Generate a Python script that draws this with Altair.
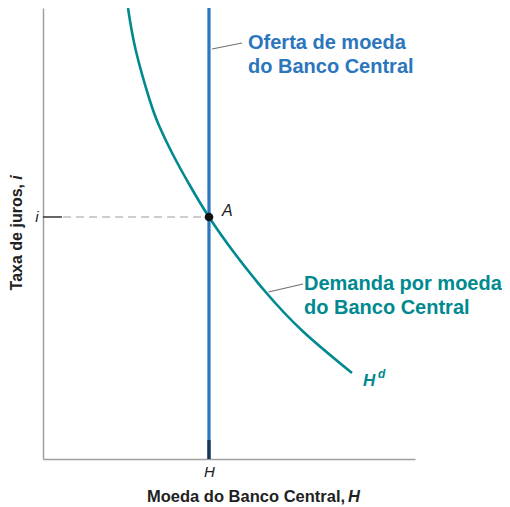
import altair as alt
import pandas as pd

# ---- data (abstract units, 0-100 on both axes) ----
H_VALUE = 44.62          # money supply position
I_VALUE = 53.66          # equilibrium interest rate

demand_x = [22.85, 24.92, 28.68, 31.24, 34.70, 39.49, 44.62, 51.24, 59.84, 70.05, 83.06]
demand_y = [100.0, 90.69, 79.60, 73.84, 67.85, 60.64, 53.66, 45.90, 37.03, 28.16, 19.07]

supply_x = [H_VALUE, H_VALUE]
supply_y = [0, 100]

# annotation anchors
label_text = ["Oferta de moeda", "do Banco Central", "Demanda por moeda", "do Banco Central"]
label_x = [55.11, 55.11, 70.16, 70.16]
label_y = [92.24, 86.92, 38.80, 33.48]
label_group = ["s", "s", "d", "d"]

leader_x = [45.43, 60.6]
leader_x2 = [53.49, 69.89]
leader_y = [90.91, 37.03]
leader_y2 = [92.24, 38.80]

BLUE = "#2b76bc"
TEAL = "#008a90"
FONT = "Liberation Sans"

xs = alt.Scale(domain=[0, 100], nice=False, zero=False)
ys = alt.Scale(domain=[0, 100], nice=False, zero=False)

demand_df = pd.DataFrame({"x": demand_x, "y": demand_y, "o": list(range(len(demand_x)))})
supply_df = pd.DataFrame({"x": supply_x, "y": supply_y})

base_axes = alt.Chart(pd.DataFrame({"x": [H_VALUE], "y": [I_VALUE]})).mark_point(opacity=0).encode(
    x=alt.X("x:Q", scale=xs, axis=alt.Axis(
        values=[H_VALUE], labelExpr="'H'", title=None, ticks=False, grid=False,
        labelFontStyle="italic", labelFontSize=15, labelColor="#222", labelFont=FONT,
        labelPadding=5, domainColor="#a0a0a0", domainWidth=1.5)),
    y=alt.Y("y:Q", scale=ys, axis=alt.Axis(
        values=[I_VALUE], labelExpr="'i'", title=None, ticks=False, grid=False,
        labelFontStyle="italic", labelFontSize=15, labelColor="#222", labelFont=FONT,
        labelPadding=5, domainColor="#a0a0a0", domainWidth=1.5)),
)

dashed = alt.Chart(pd.DataFrame({"x": [5.4], "x2": [H_VALUE], "y": [I_VALUE]})).mark_rule(
    color="#bdbdbd", strokeDash=[8, 5], strokeWidth=1.5).encode(
    x=alt.X("x:Q", scale=xs), x2="x2:Q", y=alt.Y("y:Q", scale=ys))

itick = alt.Chart(pd.DataFrame({"x": [0], "x2": [5.1], "y": [I_VALUE]})).mark_rule(
    color="#333", strokeWidth=1.5).encode(
    x=alt.X("x:Q", scale=xs), x2="x2:Q", y=alt.Y("y:Q", scale=ys))

supply = alt.Chart(supply_df).mark_line(color=BLUE, strokeWidth=3.2).encode(
    x=alt.X("x:Q", scale=xs), y=alt.Y("y:Q", scale=ys))

htick = alt.Chart(pd.DataFrame({"x": [H_VALUE], "y": [0], "y2": [4.2]})).mark_rule(
    color="#1d3554", strokeWidth=3.2).encode(
    x=alt.X("x:Q", scale=xs), y=alt.Y("y:Q", scale=ys), y2="y2:Q")

demand = alt.Chart(demand_df).mark_line(color=TEAL, strokeWidth=2.6, interpolate="natural").encode(
    x=alt.X("x:Q", scale=xs), y=alt.Y("y:Q", scale=ys), order="o:Q")

point_a = alt.Chart(pd.DataFrame({"x": [H_VALUE], "y": [I_VALUE]})).mark_circle(
    color="#111", size=75, opacity=1).encode(
    x=alt.X("x:Q", scale=xs), y=alt.Y("y:Q", scale=ys))

leaders = alt.Chart(pd.DataFrame({"x": leader_x, "x2": leader_x2, "y": leader_y, "y2": leader_y2})).mark_rule(
    color="#707070", strokeWidth=1.2).encode(
    x=alt.X("x:Q", scale=xs), x2="x2:Q", y=alt.Y("y:Q", scale=ys), y2="y2:Q")

labels = alt.Chart(pd.DataFrame({"t": label_text, "x": label_x, "y": label_y, "g": label_group})).mark_text(
    align="left", baseline="middle", font=FONT, fontSize=20, fontWeight="bold").encode(
    x=alt.X("x:Q", scale=xs), y=alt.Y("y:Q", scale=ys), text="t:N",
    color=alt.Color("g:N", scale=alt.Scale(domain=["s", "d"], range=[BLUE, TEAL]), legend=None))

def txt(t, x, y, **kw):
    return alt.Chart(pd.DataFrame({"t": [t], "x": [x], "y": [y]})).mark_text(font=FONT, **kw).encode(
        x=alt.X("x:Q", scale=xs), y=alt.Y("y:Q", scale=ys), text="t:N")

a_lbl = txt("A", 48.12, 54.99, align="left", baseline="middle", fontSize=16, fontStyle="italic", color="#222")
hd_H = txt("H", 86.02, 17.29, align="left", baseline="middle", fontSize=17, fontStyle="italic",
           fontWeight="bold", color=TEAL)
hd_d = txt("d", 90.05, 18.9, align="left", baseline="middle", fontSize=12, fontStyle="italic",
           fontWeight="bold", color=TEAL)

xt1 = txt("Moeda do Banco Central,", 81.2, -8.43, align="right", baseline="middle", fontSize=16.5,
          fontWeight="bold", color="#222")
xt2 = txt("H", 82.0, -8.43, align="left", baseline="middle", fontSize=16.5, fontWeight="bold",
          fontStyle="italic", color="#222")
yt1 = txt("Taxa de juros,", -6.99, 60.98, align="right", baseline="middle", fontSize=16,
          fontWeight="bold", color="#222", angle=270)
yt2 = txt("i", -6.99, 61.9, align="left", baseline="middle", fontSize=16, fontWeight="bold",
          fontStyle="italic", color="#222", angle=270)

chart = alt.layer(
    base_axes, dashed, itick, supply, htick, demand, point_a, leaders, labels,
    a_lbl, hd_H, hd_d, xt1, xt2, yt1, yt2
).properties(
    width=372, height=451,
    autosize=alt.AutoSizeParams(type="none"),
    padding={"left": 35, "top": 0, "right": 87, "bottom": 48},
).configure_view(stroke=None)

chart.save("out.html", embed_options={"renderer": "svg", "actions": False})
